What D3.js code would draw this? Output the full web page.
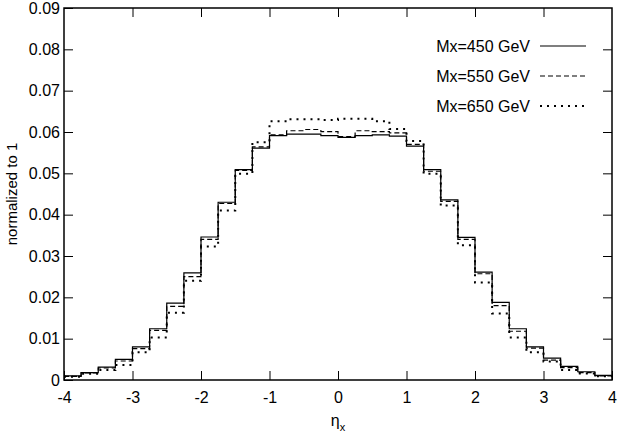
<!DOCTYPE html>
<html>
<head>
<meta charset="utf-8">
<script src="https://cdn.jsdelivr.net/npm/d3@7"></script>
<style>
  body { margin: 0; background: #fff; }
  text { font-family: "Liberation Sans", Arial, sans-serif; }
</style>
</head>
<body>
<div id="chart"></div>
<script>
// lower edges of the eta bins
var binEdges = [-4, -3.75, -3.5, -3.25, -3, -2.75, -2.5, -2.25, -2, -1.75, -1.5, -1.25, -1, -0.75, -0.5, -0.25,
                0, 0.25, 0.5, 0.75, 1, 1.25, 1.5, 1.75, 2, 2.25, 2.5, 2.75, 3, 3.25, 3.5, 3.75];
var binWidth = 0.25;

var m450 = [0.0010, 0.0018, 0.0031, 0.0050, 0.0080, 0.0124, 0.0186, 0.0259, 0.0346, 0.0430, 0.0509, 0.0561, 0.0591, 0.0595, 0.0595, 0.0591,
            0.0587, 0.0591, 0.0593, 0.0590, 0.0566, 0.0509, 0.0436, 0.0345, 0.0261, 0.0188, 0.0124, 0.0080, 0.0053, 0.0033, 0.0020, 0.0011];
var m550 = [0.0009, 0.0017, 0.0029, 0.0046, 0.0076, 0.0120, 0.0178, 0.0250, 0.0340, 0.0427, 0.0507, 0.0564, 0.0593, 0.0603, 0.0606, 0.0601,
            0.0589, 0.0603, 0.0601, 0.0598, 0.0570, 0.0505, 0.0432, 0.0340, 0.0257, 0.0180, 0.0118, 0.0077, 0.0048, 0.0030, 0.0018, 0.0010];
var m650 = [0.0008, 0.0015, 0.0024, 0.0036, 0.0067, 0.0103, 0.0163, 0.0240, 0.0323, 0.0410, 0.0499, 0.0575, 0.0626, 0.0631, 0.0631, 0.0629,
            0.0632, 0.0632, 0.0626, 0.0607, 0.0578, 0.0499, 0.0422, 0.0326, 0.0236, 0.0161, 0.0103, 0.0067, 0.0045, 0.0024, 0.0016, 0.0009];

var seriesNames = ["Mx=450 GeV", "Mx=550 GeV", "Mx=650 GeV"];
var xTicks = [-4, -3, -2, -1, 0, 1, 2, 3, 4];
var yTicks = [0, 0.01, 0.02, 0.03, 0.04, 0.05, 0.06, 0.07, 0.08, 0.09];

var width = 627, height = 438;
var margin = {top: 8, right: 15, bottom: 58, left: 64};
var innerWidth = width - margin.left - margin.right,
    innerHeight = height - margin.top - margin.bottom;

var svg = d3.select("#chart").append("svg")
    .attr("width", width)
    .attr("height", height);

var g = svg.append("g")
    .attr("transform", "translate(" + margin.left + "," + margin.top + ")");

var x = d3.scaleLinear().domain([-4, 4]).range([0, innerWidth]);
var y = d3.scaleLinear().domain([0, 0.09]).range([innerHeight, 0]);

// axes with inward ticks, mirrored on top/right
function styleAxis(sel) {
    sel.select(".domain").remove();
    sel.selectAll(".tick line").attr("stroke", "#000").attr("stroke-width", 1);
    sel.selectAll(".tick text").attr("fill", "#000").style("font-size", "16px");
}

g.append("g")
    .attr("transform", "translate(0," + innerHeight + ")")
    .call(d3.axisBottom(x).tickValues(xTicks).tickSizeInner(-9).tickPadding(12).tickFormat(function(d) { return String(d); }))
    .call(styleAxis);
g.append("g")
    .call(d3.axisTop(x).tickValues(xTicks.slice(1, -1)).tickSizeInner(-9))
    .call(styleAxis)
    .selectAll(".tick text").remove();
g.append("g")
    .call(d3.axisLeft(y).tickValues(yTicks).tickSizeInner(-9).tickPadding(4).tickFormat(function(d) { return d === 0 ? "0" : d.toFixed(2); }))
    .call(styleAxis);
g.append("g")
    .attr("transform", "translate(" + innerWidth + ",0)")
    .call(d3.axisRight(y).tickValues(yTicks.slice(1, -1)).tickSizeInner(-9))
    .call(styleAxis)
    .selectAll(".tick text").remove();

// histogram steps
var dashes = [null, "5,3", "2,5"];
var series = [m450, m550, m650];

var line = d3.line()
    .x(function(d) { return x(d[0]); })
    .y(function(d) { return y(d[1]); })
    .curve(d3.curveStepAfter);

series.forEach(function(vals, i) {
    var pts = binEdges.map(function(e, j) { return [e, vals[j]]; });
    pts.push([binEdges[binEdges.length - 1] + binWidth, vals[vals.length - 1]]);
    g.append("path")
        .attr("d", line(pts))
        .attr("fill", "none")
        .attr("stroke", "#000")
        .attr("stroke-width", i === 2 ? 2 : 1.2)
        .attr("stroke-dasharray", dashes[i]);
});

// frame
g.append("rect")
    .attr("width", innerWidth)
    .attr("height", innerHeight)
    .attr("fill", "none")
    .attr("stroke", "#000")
    .attr("stroke-width", 1.5);

// legend
var legend = svg.append("g")
    .selectAll("g")
    .data(seriesNames)
    .enter().append("g")
    .attr("transform", function(d, i) { return "translate(0," + (46 + i * 30) + ")"; });

legend.append("text")
    .attr("x", 530)
    .attr("y", 6)
    .attr("text-anchor", "end")
    .style("font-size", "16px")
    .text(function(d) { return d; });

legend.append("line")
    .attr("x1", 540).attr("x2", 586)
    .attr("stroke", "#000")
    .attr("stroke-width", function(d, i) { return i === 2 ? 2 : 1.2; })
    .attr("stroke-dasharray", function(d, i) { return dashes[i]; });

// axis labels
svg.append("text")
    .attr("transform", "translate(17," + (margin.top + innerHeight / 2) + ") rotate(-90)")
    .attr("text-anchor", "middle")
    .style("font-size", "15px")
    .text("normalized to 1");

var xl = svg.append("text")
    .attr("x", margin.left + innerWidth / 2)
    .attr("y", 426)
    .attr("text-anchor", "middle")
    .style("font-size", "16px");
xl.append("tspan").text("η");
xl.append("tspan").attr("dy", 5).style("font-size", "11px").text("x");
</script>
</body>
</html>
